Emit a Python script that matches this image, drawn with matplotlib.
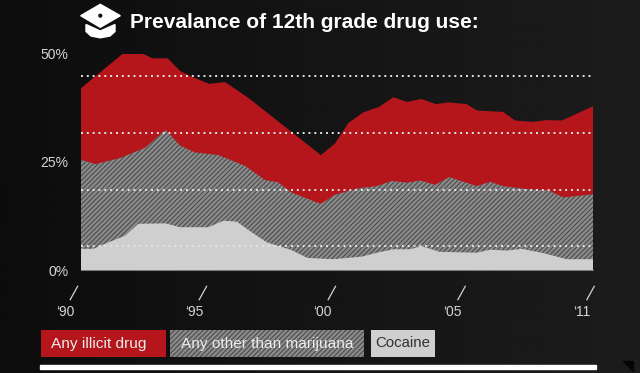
import numpy as np
import matplotlib
matplotlib.use("Agg")
import matplotlib.pyplot as plt
from matplotlib.patches import Polygon, Rectangle, Circle

W, H = 640, 373

illicit_years = [1990.0, 1991.72, 1992.42, 1992.92, 1993.56, 1994.06, 1994.47, 1995.26, 1995.91, 1996.85,
                 1999.84, 2000.42, 2000.96, 2001.58, 2002.24, 2002.81, 2003.38, 2003.95, 2004.56, 2005.07,
                 2005.82, 2006.25, 2007.32, 2007.80, 2008.55, 2009.10, 2009.72, 2011.0]
illicit_vals = [42.1, 50.1, 50.4, 49.0, 49.0, 46.1, 44.9, 43.1, 43.5, 39.9,
                26.6, 29.3, 34.0, 36.5, 37.8, 40.0, 38.9, 39.6, 38.4, 38.8,
                38.4, 36.9, 36.6, 34.6, 34.3, 34.7, 34.6, 37.9]

other_years = [1990.0, 1990.6, 1991.6, 1992.63, 1993.47, 1994.06, 1994.68, 1995.63, 1996.73, 1997.55,
               1998.08, 1998.64, 1999.83, 2000.42, 2001.36, 2002.13, 2002.74, 2003.36, 2003.9, 2004.52,
               2005.11, 2006.23, 2006.78, 2007.32, 2008.28, 2009.17, 2009.78, 2011.0]
other_vals = [25.5, 24.5, 25.9, 28.3, 32.4, 28.8, 27.2, 26.6, 24.1, 20.8,
              20.3, 17.9, 15.3, 17.4, 18.9, 19.4, 20.6, 20.2, 20.7, 19.7,
              21.5, 19.4, 20.4, 19.4, 18.7, 18.4, 16.8, 17.5]

cocaine_years = [1990.0, 1990.5, 1991.12, 1991.8, 1992.35, 1993.47, 1994.06, 1995.22, 1995.84, 1996.39,
                 1996.93, 1997.62, 1998.64, 1999.28, 2000.35, 2001.52, 2002.13, 2002.81, 2003.49, 2003.97,
                 2004.72, 2006.23, 2006.78, 2007.46, 2008.08, 2008.97, 2009.92, 2011.0]
cocaine_vals = [4.9, 4.9, 6.4, 7.9, 10.7, 10.8, 9.9, 9.9, 11.4, 11.2,
                9.0, 6.4, 4.6, 2.8, 2.5, 3.1, 4.0, 4.8, 4.8, 5.5,
                4.2, 4.0, 4.7, 4.5, 4.9, 3.9, 2.5, 2.5]

grid_vals = [5.5, 18.6, 31.7, 44.8]
y_ticks = [0, 25, 50]
y_labels = ["0%", "25%", "50%"]
x_ticks = [1989.34, 1994.63, 1999.92, 2005.24, 2010.53]
x_labels = ["\u201890", "\u201895", "\u201800", "\u201805", "\u201811"]

RED = "#b5161b"
GREY = "#8a8a8a"
HATCH = "#444444"
LIGHT = "#cfcfcf"
TEXT = "#d4d4d4"

plt.rcParams["font.family"] = ["Liberation Sans", "DejaVu Sans"]
plt.rcParams["hatch.linewidth"] = 0.7

fig = plt.figure(figsize=(W / 100, H / 100), dpi=100)

# page furniture, in pixel coordinates
bg = fig.add_axes([0, 0, 1, 1], zorder=0)
bg.set_xlim(0, W)
bg.set_ylim(H, 0)
bg.axis("off")
shade = np.linspace(0.05, 0.11, 256).reshape(1, -1)
bg.imshow(shade, extent=(0, W, H, 0), cmap="gray", vmin=0, vmax=1, aspect="auto")

# grad cap
bg.add_patch(Polygon([(80.7, 15.7), (100.3, 4.3), (120.3, 15.7), (100.3, 27.3)], color="white"))
bg.add_patch(Polygon([(86, 24.5), (100.3, 31), (115, 24.5), (115, 31.5), (110, 36), (100.3, 37.8),
                      (91, 36), (86, 31.5)], color="white"))
bg.add_patch(Circle((100.3, 15.7), 1.4, color="#111111"))
bg.text(130, 22.5, "Prevalance of 12th grade drug use:", color="white", fontsize=15,
        fontweight="bold", va="center", ha="left")

# legend
bg.add_patch(Rectangle((40.5, 330), 125, 27, facecolor=RED, edgecolor="none"))
bg.add_patch(Rectangle((170, 330), 193.5, 27, facecolor=GREY, edgecolor=HATCH, hatch="///////", lw=0))
bg.add_patch(Rectangle((371, 330), 64, 27, facecolor=LIGHT, edgecolor="none"))
bg.text(51, 344, "Any illicit drug", color="#ececec", fontsize=11.1, va="center")
bg.text(181, 344, "Any other than marijuana", color="#ececec", fontsize=11.1, va="center")
bg.text(375, 343, "Cocaine", color="#333333", fontsize=10.8, va="center")

bg.add_patch(Rectangle((40, 364.7), 556, 4.6, color="white"))
bg.add_patch(Polygon([(623, 361), (633, 361), (633, 371)], color="#050505"))

ax = fig.add_axes([81 / W, (H - 270) / H, 512 / W, 216 / H], zorder=1)
ax.patch.set_visible(False)
ax.fill_between(illicit_years, illicit_vals, 0, facecolor=RED, linewidth=0, zorder=1)
ax.fill_between(other_years, other_vals, 0, facecolor=GREY, edgecolor=HATCH, hatch="///////", linewidth=0, zorder=2)
ax.fill_between(cocaine_years, cocaine_vals, 0, facecolor=LIGHT, linewidth=0, zorder=3)
ax.hlines(grid_vals, 1990, 2011, colors="#e4e4e4", linewidth=1.4, linestyles=(0, (1, 2)), zorder=4)

ax.set_yticks(y_ticks, y_labels)
ax.set_xticks([])
ax.set_xlim(1990, 2011)
ax.set_ylim(0, 50)
ax.tick_params(axis="y", length=0, pad=9, labelsize=10, labelcolor=TEXT)
for name, s in ax.spines.items():
    s.set_visible(name == "bottom")
    s.set_color("#777777")
    s.set_linewidth(0.8)

# year labels run left of the axis start, so they can't be normal ticks
for t, lab in zip(x_ticks, x_labels):
    ax.annotate(lab, xy=(t, 0), xytext=(0, -25), textcoords="offset points", ha="center", va="top",
                fontsize=10, color=TEXT, annotation_clip=False)
    px = 81 + (t - 1990) * 512 / 21 + 9
    bg.plot([px - 3.7, px + 3.7], [299.7, 286.3], color=TEXT, lw=0.9)

fig.savefig("out.png", dpi=100)
